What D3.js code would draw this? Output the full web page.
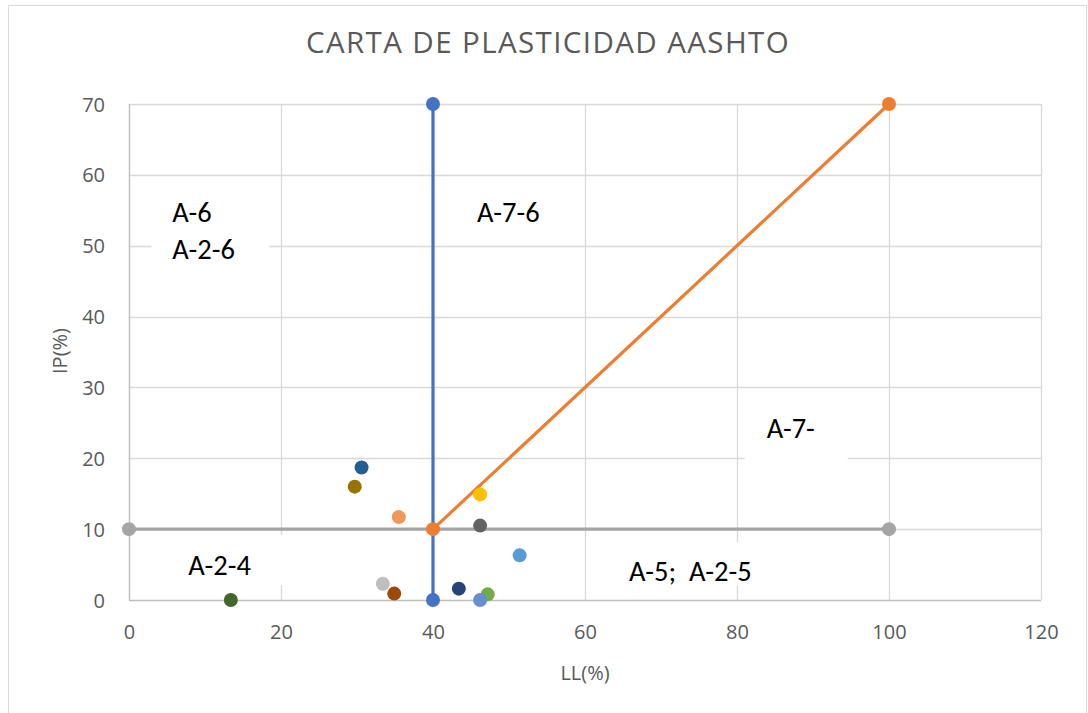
<!DOCTYPE html>
<html>
<head>
<meta charset="utf-8">
<script src="https://cdn.jsdelivr.net/npm/d3@7"></script>
<style>
  html, body { margin: 0; padding: 0; background: #fff; }
  svg { display: block; font-family: "Open Sans", "DejaVu Sans", sans-serif; }
</style>
</head>
<body>
<svg id="chart" width="1088" height="713"></svg>
<script>
// Axis ticks
const xTicks = [0, 20, 40, 60, 80, 100, 120];
const yTicks = [0, 10, 20, 30, 40, 50, 60, 70];

// Boundary lines of the AASHTO chart (LL, IP)
const lineLL40 = [[40, 0], [40, 70]];
const lineIP10 = [[0, 10], [100, 10]];
const lineA7 = [[40, 10], [100, 70]];

// Soil samples
const sampleLL = [30.6, 29.7, 35.5, 46.2, 46.2, 51.4, 33.4, 34.9, 43.4, 47.2, 46.2, 13.4];
const sampleIP = [18.7, 16.0, 11.7, 14.9, 10.5, 6.3, 2.3, 0.9, 1.6, 0.8, 0.0, 0.0];
const sampleColors = ["#255e91", "#997300", "#f1975a", "#ffc000", "#636363", "#5b9bd5",
                      "#bfbfbf", "#9e480e", "#264478", "#70ad47", "#698ed0", "#43682b"];

// Zone names
const zoneLines = [["A-6", "A-2-6"], ["A-7-6"], ["A-7-"], ["A-2-4"], ["A-5;  A-2-5"]];
const zoneAnchor = [[5.7, 53.3], [45.8, 53.4], [83.9, 22.9], [7.8, 3.5], [65.8, 2.7]];

const svg = d3.select("#chart");
const plotL = 129, plotR = 1041, plotT = 104, plotB = 600;

const x = d3.scaleLinear().domain([0, 120]).range([plotL, plotR]);
const y = d3.scaleLinear().domain([0, 70]).range([plotB, plotT]);

// outer chart frame
svg.append("rect")
  .attr("x", 8.5).attr("y", 5.5).attr("width", 1078).attr("height", 740)
  .attr("fill", "#fff").attr("stroke", "#d9d9d9").attr("stroke-width", 1);

// title
svg.append("text")
  .attr("x", 548).attr("y", 53)
  .attr("text-anchor", "middle")
  .attr("font-size", 29.5).attr("letter-spacing", 1.4).attr("fill", "#595959")
  .text("CARTA DE PLASTICIDAD AASHTO");

// gridlines
const grid = svg.append("g");
grid.selectAll(".gx").data(xTicks).join("line")
  .attr("x1", d => Math.round(x(d)) + 0.5).attr("x2", d => Math.round(x(d)) + 0.5)
  .attr("y1", plotT).attr("y2", plotB)
  .attr("stroke", "#d9d9d9").attr("stroke-width", 1.3);
grid.selectAll(".gy").data(yTicks).join("line")
  .attr("x1", plotL).attr("x2", plotR)
  .attr("y1", d => Math.round(y(d)) + 0.5).attr("y2", d => Math.round(y(d)) + 0.5)
  .attr("stroke", d => d === 0 ? "#bfbfbf" : "#d9d9d9").attr("stroke-width", 1.3);
svg.append("line")
  .attr("x1", plotL + 0.5).attr("x2", plotL + 0.5).attr("y1", plotT).attr("y2", plotB)
  .attr("stroke", "#bfbfbf").attr("stroke-width", 1.3);

// axes (labels only)
const xAxis = d3.axisBottom(x).tickValues(xTicks).tickSize(0).tickPadding(0);
const yAxis = d3.axisLeft(y).tickValues(yTicks).tickSize(0).tickPadding(0);
const gx = svg.append("g").attr("transform", `translate(0,${plotB + 39})`).call(xAxis);
const gy = svg.append("g").attr("transform", `translate(${plotL - 24},0)`).call(yAxis);
[gx, gy].forEach(g => {
  g.select(".domain").remove();
  g.selectAll("text").attr("font-size", 20).attr("fill", "#595959")
    .attr("font-family", "'Open Sans', sans-serif");
});
gx.selectAll("text").attr("dy", 0);
gy.selectAll("text").attr("dy", "0.35em");

// axis titles
svg.append("text")
  .attr("x", 585).attr("y", 680)
  .attr("text-anchor", "middle").attr("font-size", 20).attr("fill", "#595959")
  .text("LL(%)");
svg.append("text")
  .attr("transform", "translate(67,351) rotate(-90)")
  .attr("text-anchor", "middle").attr("font-size", 20).attr("fill", "#595959")
  .text("IP(%)");

// zone label boxes (white backgrounds over the grid)
const boxPad = [[-21, -40, 118, 90], [-17, -32, 100, 52], [-22, -26, 103, 68], [-23, -40, 125, 50], [-19, -39, 150, 44]];
const zones = svg.append("g");
zoneLines.forEach((lines, i) => {
  const ax = x(zoneAnchor[i][0]), ay = y(zoneAnchor[i][1]);
  const p = boxPad[i];
  zones.append("rect")
    .attr("x", ax + p[0]).attr("y", ay + p[1]).attr("width", p[2]).attr("height", p[3])
    .attr("fill", "#fff");
  const t = zones.append("text")
    .attr("x", ax).attr("y", ay)
    .attr("font-size", 28.5).attr("fill", "#000")
    .attr("font-family", "Carlito, 'Open Sans', sans-serif");
  lines.forEach((s, k) => {
    t.append("tspan").attr("x", ax).attr("dy", k === 0 ? 0 : 36.3).attr("xml:space", "preserve").text(s);
  });
});

// boundary series
const line = d3.line().x(d => x(d[0])).y(d => y(d[1]));
const series = [[lineLL40, "#4472c4"], [lineIP10, "#a5a5a5"], [lineA7, "#ed7d31"]];
series.forEach(([pts, col]) => {
  svg.append("path").attr("d", line(pts))
    .attr("fill", "none").attr("stroke", col).attr("stroke-width", 3.2);
  svg.selectAll(null).data(pts).join("circle")
    .attr("cx", d => x(d[0])).attr("cy", d => y(d[1])).attr("r", 7)
    .attr("fill", col);
});

// samples
svg.append("g").selectAll("circle").data(sampleLL).join("circle")
  .attr("cx", d => x(d)).attr("cy", (d, i) => y(sampleIP[i])).attr("r", 7)
  .attr("fill", (d, i) => sampleColors[i]);
</script>
</body>
</html>
